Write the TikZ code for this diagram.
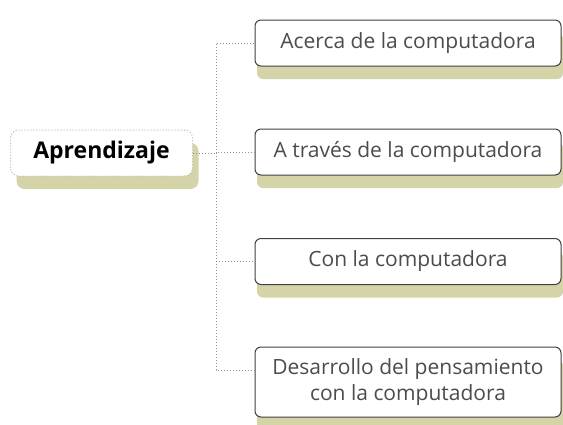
\documentclass[tikz,border=0pt]{standalone}
\usepackage{fontspec}
\setmainfont{Open Sans}
\usepackage{xcolor}
\usetikzlibrary{positioning, shadows}

\definecolor{shadowolive}{RGB}{212,212,168}

\begin{document}
\begin{tikzpicture}[
  x=0.5pt, y=-0.5pt,
  every node/.style={font=\fontsize{10.5}{13}\selectfont},
  topic/.style={rounded corners=3pt, draw=black!75, line width=0.5pt, fill=white,
    minimum width=153pt, minimum height=23pt, align=center, text=black!70, inner sep=2pt,
    drop shadow={shadow xshift=1pt, shadow yshift=-6.5pt, fill=shadowolive, opacity=1}},
  rootbox/.style={rounded corners=4pt, draw=gray!60, densely dotted, line width=0.5pt, fill=white,
    minimum width=91pt, minimum height=23pt, font=\fontsize{11.5}{14}\selectfont\bfseries,
    drop shadow={shadow xshift=3pt, shadow yshift=-6.5pt, fill=shadowolive, opacity=1}},
  link/.style={densely dotted, gray!85, line width=0.5pt}
]
\useasboundingbox (0,0) rectangle (563,424);

% --- Root ---
\node[rootbox] (root) at (101.5,153) {Aprendizaje};

% --- Topics ---
\node[topic] (acerca)     at (408,43)    {Acerca de la computadora};
\node[topic] (traves)     at (408,152)   {A través de la computadora};
\node[topic] (con)        at (408,261.5) {Con la computadora};
\node[topic, minimum height=35pt] (desarrollo) at (408,382) {Desarrollo del pensamiento\\con la computadora};

% --- Connectors ---
\coordinate (trunk) at (216,153);
\draw[link] (root.east) -- (trunk);
\foreach \n in {acerca, traves, con}
  \draw[link] (trunk) |- (\n.west);
\draw[link] (trunk) |- ([yshift=6pt]desarrollo.west);

\end{tikzpicture}
\end{document}
